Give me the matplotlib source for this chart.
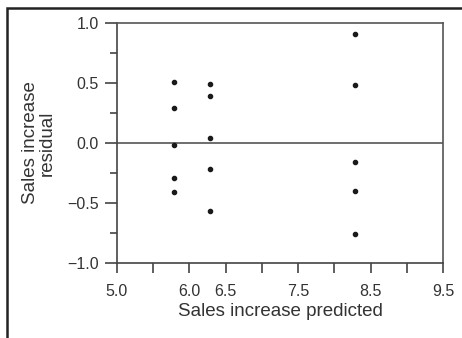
import matplotlib.pyplot as plt
from matplotlib.patches import Rectangle
import numpy as np

# Residual plot data
predicted = [5.78, 5.78, 5.78, 5.78, 5.78,
             6.29, 6.29, 6.29, 6.29, 6.29,
             8.28, 8.28, 8.28, 8.28, 8.28]
residual = [0.51, 0.29, -0.02, -0.29, -0.41,
            0.49, 0.39, 0.04, -0.22, -0.57,
            0.91, 0.48, -0.16, -0.40, -0.76]

x_ticks = [5.0, 5.5, 6.0, 6.5, 7.0, 7.5, 8.0, 8.5, 9.0, 9.5]
x_labels = ['5.0', '', '6.0', '6.5', '', '7.5', '', '8.5', '', '9.5']
y_major = [-1.0, -0.5, 0.0, 0.5, 1.0]
y_minor = [-0.75, -0.25, 0.25, 0.75]
y_labels = ['\u22121.0', '\u22120.5', '0.0', '0.5', '1.0']

plt.rcParams['font.family'] = ['Liberation Sans', 'DejaVu Sans']

W, H = 462, 338
fig = plt.figure(figsize=(W / 100, H / 100), dpi=100)
ax = fig.add_axes([117 / W, 1 - 263 / H, (443 - 117) / W, (263 - 23) / H])

text_col = '#333333'
ax.scatter(predicted, residual, s=9, color='#1a1a1a', zorder=3)
ax.axhline(0, color='#555555', lw=1.2, zorder=2)

ax.set_xlim(5.0, 9.5)
ax.set_ylim(-1.0, 1.0)
ax.set_xticks(x_ticks)
ax.set_xticklabels(x_labels, fontsize=11.5, color=text_col)
ax.set_yticks(y_major)
ax.set_yticklabels(y_labels, fontsize=11.5, color=text_col)
ax.set_yticks(y_minor, minor=True)
ax.tick_params(axis='x', direction='out', length=7, width=1.2, color='#444444', pad=8)
ax.tick_params(axis='y', which='major', direction='out', length=9, width=1.2, color='#444444', pad=4)
ax.tick_params(axis='y', which='minor', direction='out', length=5, width=1.2, color='#444444')

for side in ['left', 'bottom']:
    ax.spines[side].set_color('#444444')
    ax.spines[side].set_linewidth(1.2)
for side in ['top', 'right']:
    ax.spines[side].set_color('#555555')
    ax.spines[side].set_linewidth(1.2)

ax.set_xlabel('Sales increase predicted', fontsize=13.5, color=text_col, labelpad=3)
ax.set_ylabel('Sales increase\nresidual', fontsize=13.5, color=text_col, labelpad=8, linespacing=1.05)

# outer frame that runs off the right and bottom edges
fig.patches.append(Rectangle((7 / W, -0.05), 1.0, 1 - 8 / H + 0.05,
                             transform=fig.transFigure, fill=False,
                             edgecolor='#222222', lw=1.8))

fig.savefig('out.png', dpi=100)
